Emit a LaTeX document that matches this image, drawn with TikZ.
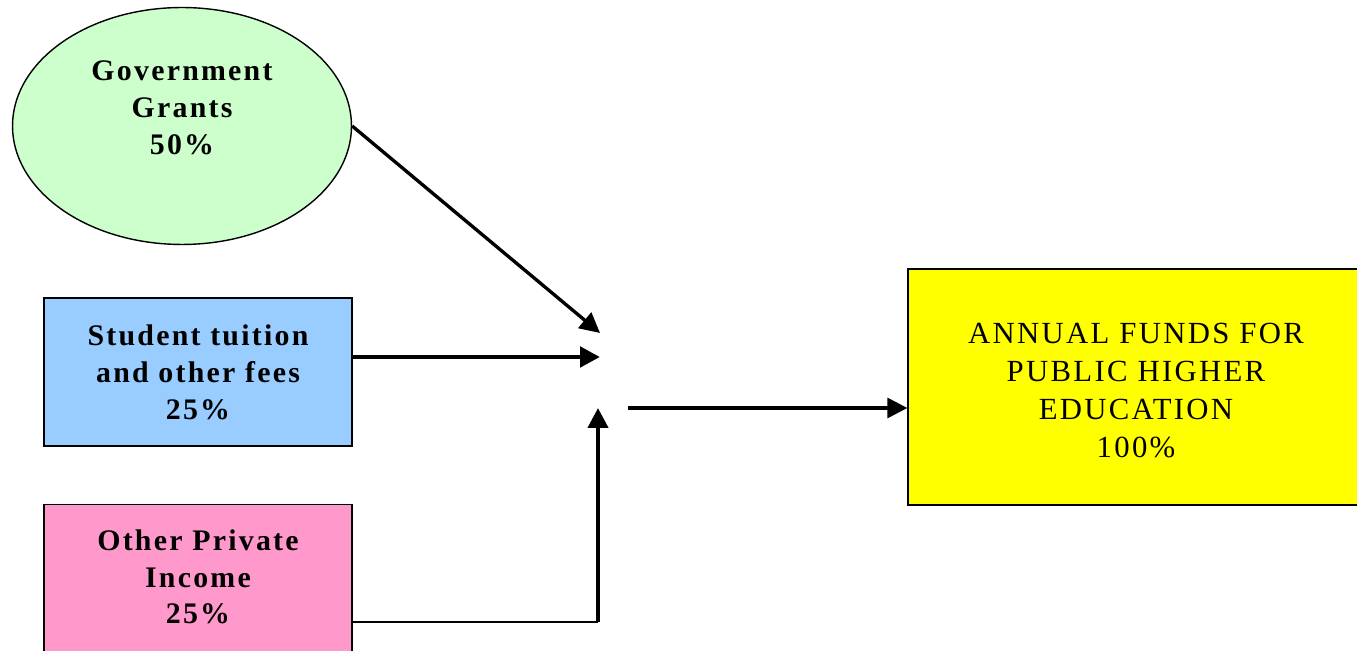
\documentclass[tikz,border=0pt]{standalone}
\usepackage{fontspec}
\setmainfont[LetterSpace=7.5]{Liberation Serif}
\usepackage{tikz}
\usetikzlibrary{arrows.meta}
\usetikzlibrary{shapes.geometric}

\definecolor{grantgreen}{HTML}{CCFFCC}
\definecolor{feeblue}{HTML}{99CCFF}
\definecolor{privpink}{HTML}{FF99CC}
\definecolor{fundyellow}{HTML}{FFFF00}

\begin{document}
\begin{tikzpicture}
    [
    x=0.02cm,y=-0.02cm,
    source/.style={draw,thick,align=center,inner sep=0pt,
      font=\fontsize{17}{21}\selectfont\bfseries},
    sourcebox/.style={source,rectangle,minimum width=6.16cm,minimum height=2.96cm},
    flow/.style={-{Triangle[length=4mm,width=4mm]}},
    ]
    \clip (0,0) rectangle (1357,651);

    \node (grants) at (182,126) [source,ellipse,fill=grantgreen,
      minimum width=6.78cm,minimum height=4.74cm]
      {Government\\Grants\\50\%\\\mbox{}};
    \node (tuition) at (198,372) [sourcebox,fill=feeblue]
      {Student tuition\\and other fees\\25\%};
    \node (private) at (198,582) [sourcebox,fill=privpink,minimum height=3.1cm]
      {Other Private\\Income\\25\%\\[-15pt]\mbox{}};
    \node (funds) at (1136,387) [draw,thick,fill=fundyellow,align=center,
      minimum width=9.12cm,minimum height=4.72cm,
      font=\fontsize{17.5}{21.6}\selectfont]
      {\\[-6pt]ANNUAL FUNDS FOR\\PUBLIC HIGHER\\EDUCATION\\100\%};

    \coordinate (hubA) at (600,333);
    \coordinate (hubB) at (600,357);
    \coordinate (hubC) at (598,408);
    \coordinate (hubD) at (628,408);
    \coordinate (bend) at (598,622);

    \draw [flow,line width=1.9pt] (grants.east) to (hubA);
    \draw [flow,line width=2.8pt] (tuition.east |- hubB) to (hubB);
    \draw [line width=0.6pt] (private.east |- bend) to (bend);
    \draw [flow,line width=2.4pt] (bend) to (hubC);
    \draw [flow,line width=1.8pt] (hubD) to (hubD -| funds.west);
  \end{tikzpicture}
\end{document}
